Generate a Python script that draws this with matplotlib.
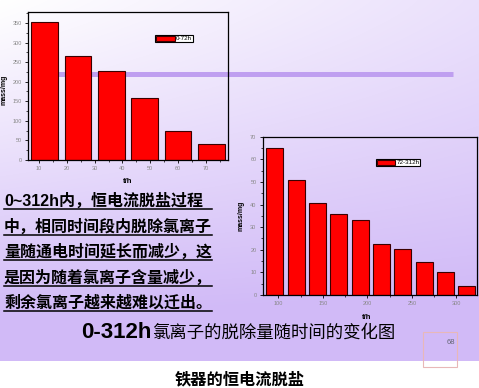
import numpy as np
import matplotlib.pyplot as plt
from matplotlib.patches import Rectangle
from matplotlib.ticker import MultipleLocator

plt.rcParams['font.family'] = ['Liberation Sans', 'Noto Sans CJK SC']

# 0-72h
t1 = [12, 24, 36, 48, 60, 72]
m1 = [352, 265, 227, 158, 73, 42]
x1_ticks = [10, 20, 30, 40, 50, 60, 70]

# 72-312h
t2 = [96, 120, 144, 168, 192, 216, 240, 264, 288, 312]
m2 = [65, 51, 40.5, 36, 33, 22.5, 20.5, 14.8, 10, 4]
x2_ticks = [100, 150, 200, 250, 300]

lines = ["0~312h内，恒电流脱盐过程",
         "中，相同时间段内脱除氯离子",
         "量随通电时间延长而减少，这",
         "是因为随着氯离子含量减少，",
         "剩余氯离子越来越难以迁出。"]

W, H = 479, 388
fig = plt.figure(figsize=(W / 100, H / 100), dpi=100)

# 背景
bg = fig.add_axes([0, 0, 1, 1])
yy, xx = np.mgrid[0:361, 0:W]
yf = yy / 360
xf = xx / (W - 1)
t = np.clip(1.15 * yf ** 1.1 + 0.45 * xf * (1 - yf), 0, 1)[..., None]
lav = np.array([0.82, 0.73, 0.97])
img = (1 - t) * np.ones(3) + t * lav
bg.imshow(img, extent=(0, W, 361, 0), aspect='auto', interpolation='bilinear')
bg.set_xlim(0, W)
bg.set_ylim(H, 0)
bg.axis('off')

# 紫色横线
bg.plot([55, 453], [74, 74], color='#bf9ff0', lw=3.6, solid_capstyle='butt')

# 文字
for i, s in enumerate(lines):
    c = 201 + 25.5 * i
    bg.text(4, c, s, fontsize=11.5, fontweight='bold', ha='left', va='center')
    bg.plot([4, 212], [c + 8, c + 8], color='black', lw=1.1)

bg.text(152, 333, "0-312h", fontsize=16, fontweight='bold', ha='right', va='center',
        family='Liberation Sans')
bg.text(152, 333, "氯离子的脱除量随时间的变化图", fontsize=12.5, ha='left', va='center',
        family='Noto Sans CJK SC')
bg.text(240, 379, "铁器的恒电流脱盐", fontsize=11.7, fontweight='bold', ha='center',
        va='center', family='Noto Sans CJK SC')

# 印章
bg.add_patch(Rectangle((423, 332), 34, 35, fill=False, edgecolor='#e8b8b8', lw=0.8))
bg.text(455, 343, "68", fontsize=5.5, color='#666677', ha='right', va='center')


def style(ax):
    ax.patch.set_alpha(0)
    for sp in ax.spines.values():
        sp.set_color('black')
        sp.set_linewidth(0.9)
    ax.tick_params(which='major', length=2.5, width=0.6, labelsize=4, labelcolor='#888888', pad=2)
    ax.tick_params(which='minor', length=1.5, width=0.5)


# 图1
ax1 = fig.add_axes([28 / W, 1 - 160 / H, 200 / W, 148 / H])
ax1.bar(t1, m1, width=9.6, color='red', edgecolor='#3a0000', lw=0.8, label='0-72h')
ax1.set_xlim(6, 78)
ax1.set_ylim(0, 378)
ax1.set_xticks(x1_ticks)
ax1.set_yticks(range(0, 351, 50))
ax1.xaxis.set_minor_locator(MultipleLocator(5))
ax1.yaxis.set_minor_locator(MultipleLocator(25))
style(ax1)
ax1.set_ylabel('mass/mg', fontsize=5, fontweight='bold')
ax1.yaxis.set_label_coords(-0.105, 0.473)
ax1.set_xlabel('t/h', fontsize=5.5, fontweight='bold')
ax1.xaxis.set_label_coords(0.5, -0.12)
leg1 = ax1.legend(loc='center', bbox_to_anchor=(174 / W, 1 - 38.6 / H), bbox_transform=fig.transFigure,
                  fontsize=4.5, fancybox=False, edgecolor='black', framealpha=1, borderpad=0.15,
                  handlelength=3, handleheight=0.9, handletextpad=0.2, borderaxespad=0)
leg1.get_frame().set_linewidth(0.8)

# 图2
ax2 = fig.add_axes([262.7 / W, 1 - 295 / H, 214 / W, 158.3 / H])
ax2.bar(t2, m2, width=19, color='red', edgecolor='#3a0000', lw=0.8, label='72-312h')
ax2.set_xlim(82.4, 323)
ax2.set_ylim(0, 70)
ax2.set_xticks(x2_ticks)
ax2.set_yticks(range(0, 71, 10))
ax2.xaxis.set_minor_locator(MultipleLocator(25))
ax2.yaxis.set_minor_locator(MultipleLocator(5))
style(ax2)
ax2.set_ylabel('mass/mg', fontsize=5, fontweight='bold')
ax2.yaxis.set_label_coords(-0.087, 0.5)
ax2.set_xlabel('t/h', fontsize=5.5, fontweight='bold')
ax2.xaxis.set_label_coords(0.487, -0.12)
leg2 = ax2.legend(loc='center', bbox_to_anchor=(398 / W, 1 - 162.5 / H), bbox_transform=fig.transFigure,
                  fontsize=4.5, fancybox=False, edgecolor='black', framealpha=1, borderpad=0.15,
                  handlelength=3, handleheight=0.9, handletextpad=0.2, borderaxespad=0)
leg2.get_frame().set_linewidth(0.8)

fig.savefig('out.png', dpi=100)
